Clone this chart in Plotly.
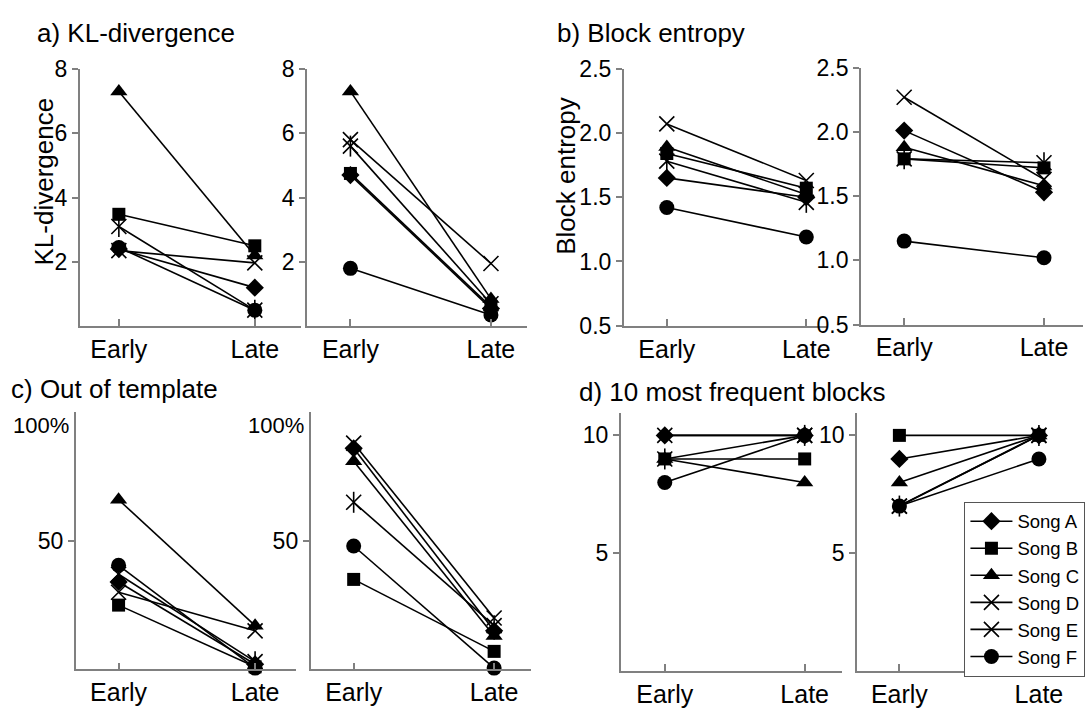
import plotly.graph_objects as go

# ---------------- data ----------------
stages = ["Early", "Late"]
songs = ["Song A", "Song B", "Song C", "Song D", "Song E", "Song F"]

kl_left_early = [2.40, 3.48, 7.30, 2.35, 3.10, 2.45]
kl_left_late = [1.20, 2.50, 2.20, 1.97, 0.50, 0.50]
kl_right_early = [4.70, 4.75, 7.30, 5.80, 5.60, 1.80]
kl_right_late = [0.55, 0.60, 0.85, 1.95, 0.70, 0.35]

ent_left_early = [1.65, 1.84, 1.89, 2.07, 1.78, 1.42]
ent_left_late = [1.50, 1.57, 1.52, 1.63, 1.46, 1.19]
ent_right_early = [2.01, 1.79, 1.88, 2.27, 1.79, 1.15]
ent_right_late = [1.53, 1.72, 1.58, 1.63, 1.76, 1.02]

tpl_left_early = [34, 25, 66, 30, 37, 40.5]
tpl_left_late = [2, 1, 17, 15, 3, 0.5]
tpl_right_early = [86, 35, 81, 88, 65, 48]
tpl_right_late = [15, 7, 13, 20, 17, 0.5]

blk_left_early = [10, 9, 9, 10, 9, 8]
blk_left_late = [10, 9, 8, 10, 10, 10]
blk_right_early = [9, 10, 8, 7, 7, 7]
blk_right_late = [10, 10, 10, 10, 10, 9]

kl_ticks = [2, 4, 6, 8]
ent_ticks = [0.5, 1.0, 1.5, 2.0, 2.5]
tpl_ticks = [50]
blk_ticks = [5, 10]

# ---------------- styling ----------------
W, H = 1088, 719
FONT = "Arial, Liberation Sans, sans-serif"
AX = "#808080"

symbols = ["diamond", "square", "triangle-up", "x-thin", "x-thin", "circle"]
sizes = [14, 13, 15, 15, 15, 15]

def xd(l, r):
    return [l / W, r / W]

def yd(top, bottom):
    return [1 - bottom / H, 1 - top / H]

panels = [
    # early, late, x-domain px, y-domain px, y-range, x-range, ticks, fmt
    (kl_left_early, kl_left_late, (80, 302), (58, 325), [0, 8], [-0.288, 1.339], kl_ticks, None),
    (kl_right_early, kl_right_late, (308, 529), (58, 325), [0, 8], [-0.31, 1.257], kl_ticks, None),
    (ent_left_early, ent_left_late, (626, 830), (57.7, 324.5), [0.5, 2.5], [-0.309, 1.148], ent_ticks, ".1f"),
    (ent_right_early, ent_right_late, (864, 1087), (56.7, 323.3), [0.5, 2.5], [-0.31, 1.279], ent_ticks, ".1f"),
    (tpl_left_early, tpl_left_late, (76, 297), (414.3, 681), [0, 100], [-0.314, 1.299], tpl_ticks, None),
    (tpl_right_early, tpl_right_late, (311.7, 533.3), (414.3, 681), [0, 100], [-0.307, 1.265], tpl_ticks, None),
    (blk_left_early, blk_left_late, (623, 845), (415, 682.7), [0, 10.95], [-0.315, 1.266], blk_ticks, None),
    (blk_right_early, blk_right_late, (860, 1080), (415, 682.7), [0, 10.95], [-0.305, 1.266], blk_ticks, None),
]

fig = go.Figure()
layout = {}

for p, (early, late, xdp, ydp, yr, xr, ticks, fmt) in enumerate(panels):
    n = p + 1
    xa = "x" if n == 1 else f"x{n}"
    ya = "y" if n == 1 else f"y{n}"
    xkey = "xaxis" if n == 1 else f"xaxis{n}"
    ykey = "yaxis" if n == 1 else f"yaxis{n}"
    layout[xkey] = dict(
        domain=xd(*xdp), anchor=ya, range=xr, type="category",
        showline=True, linecolor=AX, linewidth=1.5, mirror=False,
        ticks="inside", ticklen=7, tickcolor=AX, tickwidth=1.5,
        tickfont=dict(family=FONT, size=25, color="black"),
        showgrid=False, zeroline=False, fixedrange=True,
    )
    ydict = dict(
        domain=yd(*ydp), anchor=xa, range=yr,
        showline=True, linecolor=AX, linewidth=1.5,
        ticks="outside", ticklen=6, tickcolor=AX, tickwidth=1.5,
        tickvals=ticks, tickfont=dict(family=FONT, size=23, color="black"),
        showgrid=False, zeroline=False, fixedrange=True,
    )
    if fmt:
        ydict["tickformat"] = fmt
    layout[ykey] = ydict

    for i, song in enumerate(songs):
        filled = symbols[i] != "x-thin"
        fig.add_trace(go.Scatter(
            x=stages, y=[early[i], late[i]], xaxis=xa, yaxis=ya,
            mode="lines+markers", name=song, legendgroup=song,
            showlegend=(n == 8),
            line=dict(color="black", width=1.6),
            marker=dict(symbol=symbols[i], size=sizes[i], color="black",
                        line=dict(color="black", width=0 if filled else 1.6)),
            cliponaxis=False,
        ))
        if i == 4:
            fig.add_trace(go.Scatter(
                x=stages, y=[early[i], late[i]], xaxis=xa, yaxis=ya,
                mode="markers", legendgroup=song, showlegend=False,
                marker=dict(symbol="line-ns", size=15, color="black",
                            line=dict(color="black", width=1.6)),
                cliponaxis=False,
            ))

annotations = [
    dict(text="a) KL-divergence", x=35 / W, y=1 - 21 / H, xanchor="left", yanchor="middle"),
    dict(text="b) Block entropy", x=557 / W, y=1 - 21 / H, xanchor="left", yanchor="middle"),
    dict(text="c) Out of template", x=9 / W, y=1 - 390 / H, xanchor="left", yanchor="middle"),
    dict(text="d) 10 most frequent blocks", x=579 / W, y=1 - 393 / H, xanchor="left", yanchor="middle"),
]
for a in annotations:
    a.update(xref="paper", yref="paper", showarrow=False,
             font=dict(family=FONT, size=26, color="black"))

annotations += [
    dict(text="KL-divergence", x=44 / W, y=1 - 175 / H, textangle=-90),
    dict(text="Block entropy", x=568 / W, y=1 - 169 / H, textangle=-90),
]
for a in annotations[4:]:
    a.update(xref="paper", yref="paper", showarrow=False, xanchor="center", yanchor="middle",
             font=dict(family=FONT, size=26, color="black"))

for axn, xpx in ((5, 76), (6, 311.7)):
    annotations.append(dict(
        text="100%", xref="paper", yref=f"y{axn}", x=(xpx - 5) / W, y=95,
        xanchor="right", yanchor="middle", showarrow=False,
        font=dict(family=FONT, size=22, color="black"),
    ))

fig.update_layout(
    width=W, height=H, margin=dict(l=0, r=0, t=0, b=0),
    paper_bgcolor="white", plot_bgcolor="white",
    showlegend=True,
    legend=dict(
        x=968 / W, y=1 - 507 / H, xanchor="left", yanchor="top",
        bordercolor="#555555", borderwidth=1, bgcolor="white",
        font=dict(family=FONT, size=18.5, color="black"),
        itemwidth=42, tracegroupgap=0,
    ),
    annotations=annotations,
    **layout,
)

fig.write_html("out.html")
